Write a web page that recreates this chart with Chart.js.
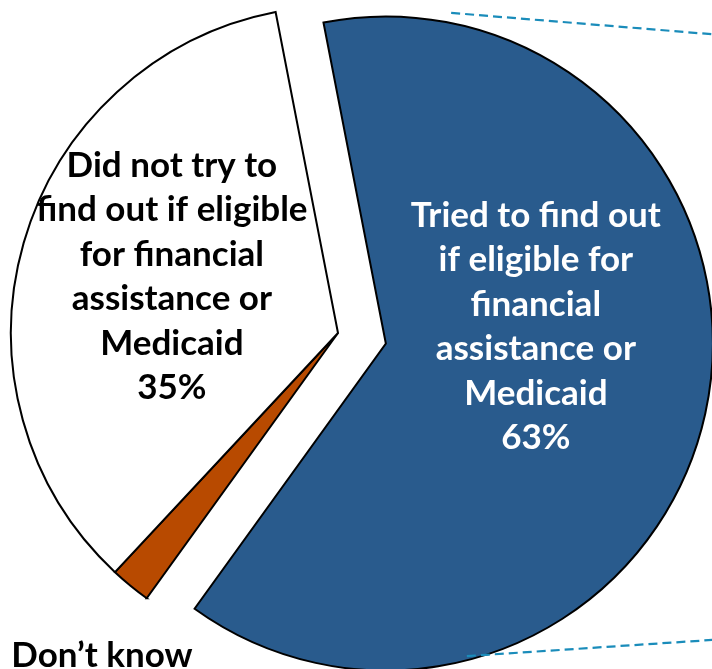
<!DOCTYPE html>
<html>
<head>
<meta charset="utf-8">
<script src="https://cdn.jsdelivr.net/npm/chart.js@4/dist/chart.umd.min.js"></script>
<style>
  html, body { margin: 0; padding: 0; background: #ffffff; overflow: hidden; }
  #wrap { position: relative; width: 712px; height: 669px; }
</style>
</head>
<body>
<div id="wrap"><canvas id="pie" width="712" height="669"></canvas></div>
<script>
// Survey answers, in drawing order (clockwise)
const categories = [
  'Tried to find out if eligible for financial assistance or Medicaid',
  'Don\u2019t know',
  'Did not try to find out if eligible for financial assistance or Medicaid'
];
const shares = [63, 2, 35];
const sliceColors = ['#295B8D', '#B84A00', '#FFFFFF'];

// Wrapped label text for each slice
const triedLines = ['Tried to find out', 'if eligible for', 'financial', 'assistance or', 'Medicaid'];
const notTriedLines = ['Did not try to', 'find out if eligible', 'for financial', 'assistance or', 'Medicaid'];
const dontKnowLines = ['Don\u2019t know'];

const FONT = 'bold 35px Lato, "Open Sans", sans-serif';
const LINE_H = 44.5;
// how far each slice is pulled out of the pie, in px
const EXPLODE = [49, 0, 0];

// Label blocks, placed relative to the pie centre in units of its radius
const labelBlocks = [
  { index: 0, lines: triedLines, pct: true, color: '#ffffff', align: 'center', fx: 0.605, fy: -0.325 },
  { index: 2, lines: notTriedLines, pct: true, color: '#000000', align: 'center', fx: -0.508, fy: -0.478 },
  { index: 1, lines: dontKnowLines, pct: false, color: '#000000', align: 'left', fx: -0.999, fy: 1.021 }
];

// Shift exploded slices along their mid angle without growing their radius
const explodeSlices = {
  id: 'explodeSlices',
  afterUpdate(chart) {
    chart.getDatasetMeta(0).data.forEach((arc, i) => {
      const dist = EXPLODE[i];
      if (!dist || arc.$exploded) return;
      const baseDraw = arc.draw;
      arc.draw = function (ctx, area) {
        const mid = (this.startAngle + this.endAngle) / 2;
        ctx.save();
        ctx.translate(Math.cos(mid) * dist, Math.sin(mid) * dist);
        baseDraw.call(this, ctx, area);
        ctx.restore();
      };
      arc.$exploded = true;
    });
  }
};

const sliceLabels = {
  id: 'sliceLabels',
  afterDatasetsDraw(chart) {
    const arc = chart.getDatasetMeta(0).data[0];
    const cx = arc.x, cy = arc.y, R = arc.outerRadius;
    const ctx = chart.ctx;
    ctx.save();
    ctx.font = FONT;
    ctx.textBaseline = 'alphabetic';
    labelBlocks.forEach(b => {
      const lines = b.lines.slice();
      if (b.pct) lines.push(shares[b.index] + '%');
      ctx.fillStyle = b.color;
      ctx.textAlign = b.align;
      const x = cx + b.fx * R;
      const y0 = cy + b.fy * R;
      lines.forEach((t, i) => ctx.fillText(t, x, y0 + i * LINE_H));
    });
    ctx.restore();
  },
  afterDraw(chart) {
    // dashed connector lines leading off to the right
    const arc = chart.getDatasetMeta(0).data[0];
    const cx = arc.x, cy = arc.y, R = arc.outerRadius;
    const ctx = chart.ctx;
    ctx.save();
    ctx.strokeStyle = '#1A8CBA';
    ctx.lineWidth = 2.2;
    ctx.setLineDash([9, 5]);
    ctx.beginPath();
    ctx.moveTo(cx + 0.346 * R, cy - 0.979 * R);
    ctx.lineTo(cx + 1.2 * R, cy - 0.909 * R);
    ctx.moveTo(cx + 0.394 * R, cy + 0.988 * R);
    ctx.lineTo(cx + 1.2 * R, cy + 0.935 * R);
    ctx.stroke();
    ctx.restore();
  }
};

new Chart(document.getElementById('pie'), {
  type: 'pie',
  data: {
    labels: categories,
    datasets: [{
      data: shares,
      backgroundColor: sliceColors,
      borderColor: '#000000',
      borderWidth: 2,
      borderJoinStyle: 'miter',
      offset: 0,
      hoverOffset: 0,
      clip: false
    }]
  },
  options: {
    responsive: false,
    animation: false,
    events: [],
    rotation: -11,
    radius: 327,
    layout: { padding: { left: 0, right: 36, top: 0, bottom: 3 } },
    plugins: {
      legend: { display: false },
      tooltip: { enabled: false }
    }
  },
  plugins: [explodeSlices, sliceLabels]
});
</script>
</body>
</html>
